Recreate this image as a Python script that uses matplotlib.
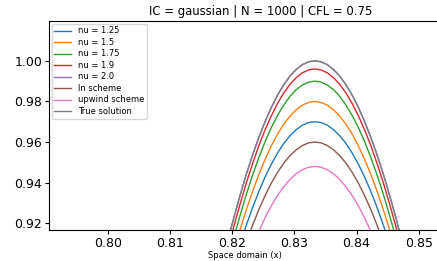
import matplotlib
matplotlib.use("Agg")
import matplotlib.pyplot as plt

# Space grid (x) around the peak
x = [0.8183, 0.8193, 0.8203, 0.8213, 0.8223, 0.8233, 0.8243, 0.8253, 0.8263, 0.8273,
     0.8283, 0.8293, 0.8303, 0.8313, 0.8323, 0.8333, 0.8343, 0.8353, 0.8363, 0.8373,
     0.8383, 0.8393, 0.8403, 0.8413, 0.8423, 0.8433, 0.8443, 0.8453, 0.8463, 0.8473, 0.8483]

nu_125 = [0.8776, 0.8890, 0.8997, 0.9098, 0.9192, 0.9278, 0.9357, 0.9428, 0.9491, 0.9546,
          0.9593, 0.9631, 0.9661, 0.9683, 0.9696, 0.9700, 0.9696, 0.9683, 0.9661, 0.9631,
          0.9593, 0.9546, 0.9491, 0.9428, 0.9357, 0.9278, 0.9192, 0.9098, 0.8997, 0.8890, 0.8776]
nu_15 = [0.8834, 0.8953, 0.9065, 0.9171, 0.9268, 0.9358, 0.9441, 0.9515, 0.9581, 0.9639,
         0.9688, 0.9728, 0.9759, 0.9782, 0.9795, 0.9800, 0.9795, 0.9782, 0.9759, 0.9728,
         0.9688, 0.9639, 0.9581, 0.9515, 0.9441, 0.9358, 0.9268, 0.9171, 0.9065, 0.8953, 0.8834]
nu_175 = [0.8891, 0.9015, 0.9132, 0.9241, 0.9344, 0.9438, 0.9524, 0.9602, 0.9671, 0.9731,
          0.9782, 0.9825, 0.9858, 0.9881, 0.9895, 0.9900, 0.9895, 0.9881, 0.9858, 0.9825,
          0.9782, 0.9731, 0.9671, 0.9602, 0.9524, 0.9438, 0.9344, 0.9241, 0.9132, 0.9015, 0.8891]
nu_19 = [0.8944, 0.9069, 0.9187, 0.9297, 0.9400, 0.9495, 0.9582, 0.9660, 0.9729, 0.9790,
         0.9842, 0.9884, 0.9917, 0.9941, 0.9955, 0.9960, 0.9955, 0.9941, 0.9917, 0.9884,
         0.9842, 0.9790, 0.9729, 0.9660, 0.9582, 0.9495, 0.9400, 0.9297, 0.9187, 0.9069, 0.8944]
nu_20 = [0.8988, 0.9113, 0.9230, 0.9340, 0.9443, 0.9537, 0.9623, 0.9701, 0.9770, 0.9831,
         0.9882, 0.9925, 0.9957, 0.9981, 0.9995, 1.0000, 0.9995, 0.9981, 0.9957, 0.9925,
         0.9882, 0.9831, 0.9770, 0.9701, 0.9623, 0.9537, 0.9443, 0.9340, 0.9230, 0.9113, 0.8988]
ln_scheme = [0.8705, 0.8815, 0.8920, 0.9017, 0.9108, 0.9191, 0.9268, 0.9336, 0.9398, 0.9451,
             0.9496, 0.9533, 0.9562, 0.9583, 0.9596, 0.9600, 0.9596, 0.9583, 0.9562, 0.9533,
             0.9496, 0.9451, 0.9398, 0.9336, 0.9268, 0.9191, 0.9108, 0.9017, 0.8920, 0.8815, 0.8705]
upwind = [0.8619, 0.8726, 0.8826, 0.8920, 0.9007, 0.9087, 0.9161, 0.9227, 0.9286, 0.9337,
          0.9380, 0.9416, 0.9444, 0.9464, 0.9476, 0.9480, 0.9476, 0.9464, 0.9444, 0.9416,
          0.9380, 0.9337, 0.9286, 0.9227, 0.9161, 0.9087, 0.9007, 0.8920, 0.8826, 0.8726, 0.8619]
true_solution = [0.8988, 0.9113, 0.9230, 0.9340, 0.9443, 0.9537, 0.9623, 0.9701, 0.9770, 0.9831,
                 0.9882, 0.9925, 0.9957, 0.9981, 0.9995, 1.0000, 0.9995, 0.9981, 0.9957, 0.9925,
                 0.9882, 0.9831, 0.9770, 0.9701, 0.9623, 0.9537, 0.9443, 0.9340, 0.9230, 0.9113, 0.8988]

series = [nu_125, nu_15, nu_175, nu_19, nu_20, ln_scheme, upwind, true_solution]
labels = ["nu = 1.25", "nu = 1.5", "nu = 1.75", "nu = 1.9", "nu = 2.0",
          "ln scheme", "upwind scheme", "True solution"]
colors = ["#1f77b4", "#ff7f0e", "#2ca02c", "#d62728", "#9467bd",
          "#8c564b", "#e377c2", "#7f7f7f"]

xticks = [0.80, 0.81, 0.82, 0.83, 0.84, 0.85]
yticks = [0.92, 0.94, 0.96, 0.98, 1.00]

W, H = 437, 261
fig = plt.figure(figsize=(W / 100, H / 100), dpi=100)
left, right, top, bottom = 49, 440, 21, 230
ax = fig.add_axes([left / W, (H - bottom) / H, (right - left) / W, (bottom - top) / H])

for ys, lab, col in zip(series, labels, colors):
    ax.plot(x, ys, color=col, lw=1.0, label=lab)

ax.set_xlim(0.79056, 0.85342)
ax.set_ylim(0.9167, 1.0196)
ax.set_xticks(xticks)
ax.set_xticklabels([f"{t:.2f}" for t in xticks])
ax.set_yticks(yticks)
ax.set_yticklabels([f"{t:.2f}" for t in yticks])
ax.tick_params(labelsize=9, length=3, pad=2)
ax.set_xlabel("Space domain (x)", fontsize=6, labelpad=1)
ax.set_title("IC = gaussian | N = 1000 | CFL = 0.75", fontsize=8.4,
             x=(261 - left) / (right - left), pad=4)
ax.legend(loc="upper left", fontsize=6, borderaxespad=0.3, handlelength=2.0,
          labelspacing=0.3, borderpad=0.35)

fig.savefig("out.png", dpi=100)
